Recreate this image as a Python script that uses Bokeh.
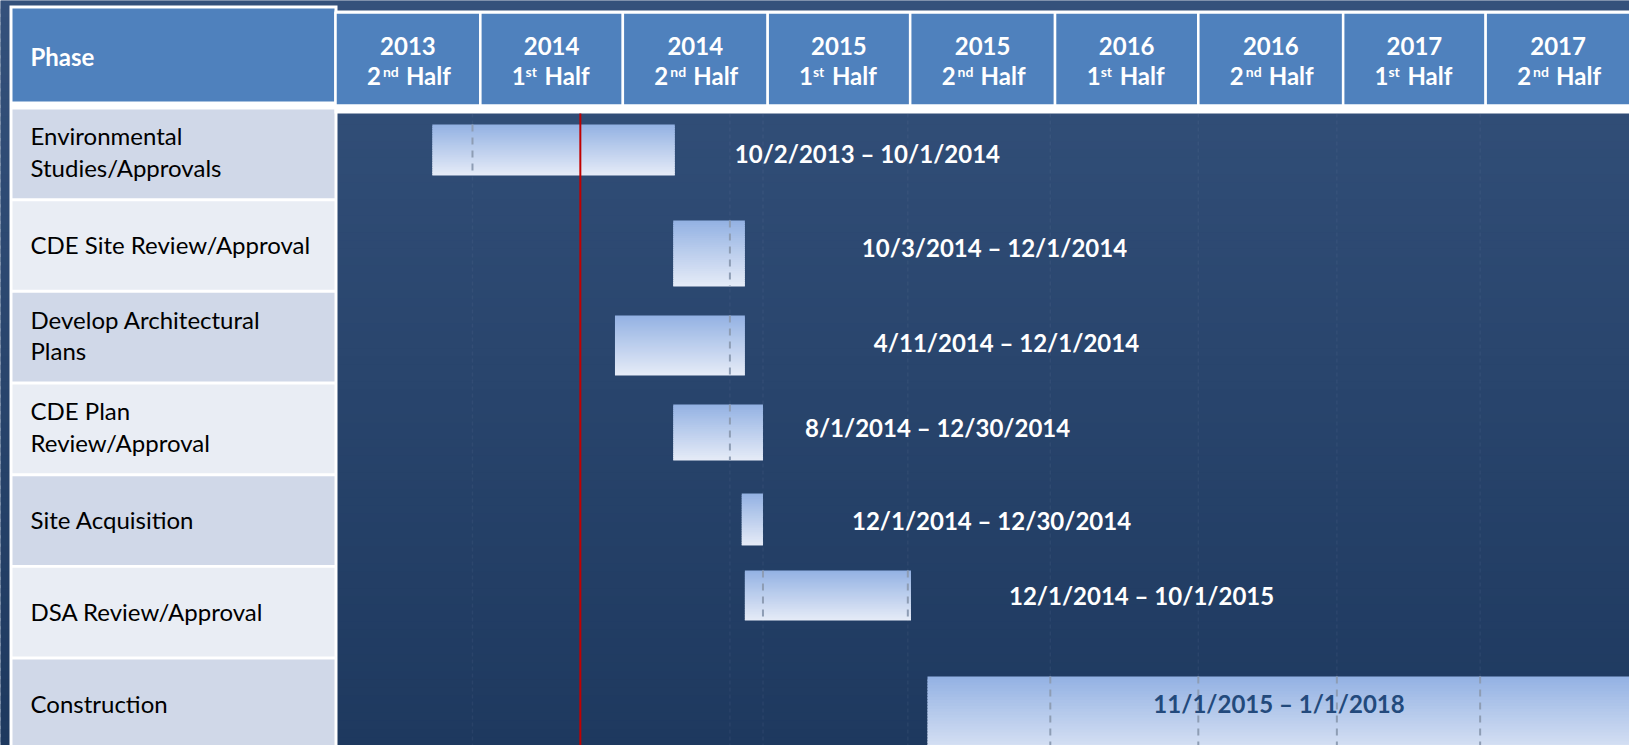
import pandas as pd
from bokeh.plotting import figure
from bokeh.models import Range1d, ColumnDataSource
from bokeh.embed import file_html
from bokeh.resources import INLINE
from bokeh.core.properties import value

# ---------------- data ----------------
header_title = "Phase"
phases = [
    "Environmental\nStudies/Approvals",
    "CDE Site Review/Approval",
    "Develop Architectural\nPlans",
    "CDE Plan\nReview/Approval",
    "Site Acquisition",
    "DSA Review/Approval",
    "Construction",
]
bar_start = ["2013-11-01", "2014-09-03", "2014-06-21", "2014-09-03",
             "2014-11-29", "2014-12-03", "2015-07-23"]
bar_end = ["2014-09-05", "2014-12-03", "2014-12-03", "2014-12-26",
           "2014-12-26", "2015-07-02", "2018-01-01"]
date_labels = [
    "10/2/2013 – 10/1/2014",
    "10/3/2014 – 12/1/2014",
    "4/11/2014 – 12/1/2014",
    "8/1/2014 – 12/30/2014",
    "12/1/2014 – 12/30/2014",
    "12/1/2014 – 10/1/2015",
    "11/1/2015 – 1/1/2018",
]
period_year = ["2013", "2014", "2014", "2015", "2015", "2016", "2016", "2017", "2017"]
period_num = ["2", "1", "2", "1", "2", "1", "2", "1", "2"]
period_suffix = ["nd", "st", "nd", "st", "nd", "st", "nd", "st", "nd"]
period_word = ["Half"] * 9
period_start = ["2013-07-01", "2014-01-01", "2014-07-01", "2015-01-01", "2015-07-01",
                "2016-01-01", "2016-07-01", "2017-01-01", "2017-07-01"]
period_end = ["2014-01-01", "2014-07-01", "2015-01-01", "2015-07-01", "2016-01-01",
              "2016-07-01", "2017-01-01", "2017-07-01", "2018-01-01"]
gridline_dates = ["2013-12-22", "2014-11-14", "2014-12-26", "2015-06-28",
                  "2015-12-26", "2016-07-01", "2016-12-24", "2017-06-24"]
today_marker = "2014-05-08"

# ---------------- layout / style ----------------
W, H = 1629, 745
ROW_TOP = 109                 # px of first row top
ROW_PITCH = 91.67             # px per table row
CELL_FRAC = 88.7 / ROW_PITCH  # cell height without white separator
CHART_TOP = 113               # px where the dark chart area starts

bar_top_frac = [0.164, 0.211, 0.247, 0.218, 0.189, 0.029, 0.185]
bar_bot_frac = [0.720, 0.931, 0.902, 0.829, 0.756, 0.575, 1.15]
label_y_frac = [0.485, 0.505, 0.540, 0.470, 0.485, 0.305, 0.480]
label_gap_px = [60, 117, 129, 42, 89, 98, 0]
label_inside = [False, False, False, False, False, False, True]

HEADER_BLUE = "#4F81BD"
ROW_COLORS = ["#D0D8E8", "#E9EDF4"]
BG_TOP, BG_BOT = "#34517B", "#1E395F"
BAR_TOP, BAR_BOT = "#93B1E3", "#E6ECF7"
FONT = value("Lato")


def hex2rgb(h):
    h = h.lstrip("#")
    return tuple(int(h[i:i + 2], 16) for i in (0, 2, 4))


def lerp(c1, c2, t):
    a, b = hex2rgb(c1), hex2rgb(c2)
    return "#%02x%02x%02x" % tuple(int(round(a[i] + (b[i] - a[i]) * t)) for i in range(3))


# ---------------- scales ----------------
t0 = pd.Timestamp(period_start[0])
t1 = pd.Timestamp(period_end[-1])
X0, X1 = 335, 1630
per_px = (t1 - t0) / (X1 - X0)
x_start = (t0 - X0 * per_px).to_pydatetime()
x_end = (t0 + (W - X0) * per_px).to_pydatetime()

y_top = -ROW_TOP / ROW_PITCH
y_bottom = (H - ROW_TOP) / ROW_PITCH

p = figure(width=W, height=H, x_range=Range1d(x_start, x_end),
           y_range=Range1d(y_bottom, y_top),
           x_axis_location=None, y_axis_location=None,
           output_backend="svg", toolbar_location=None, min_border=0)
p.extra_x_ranges = {"px": Range1d(0, W)}
p.extra_y_ranges = {"px": Range1d(H, 0)}
p.grid.visible = False
p.outline_line_color = None
p.background_fill_color = BG_TOP
p.border_fill_color = BG_TOP

# background gradient
NB = 90
bg_top = [H * k / NB for k in range(NB)]
bg_bot = [H * (k + 1.6) / NB for k in range(NB)]
bg_col = [lerp(BG_TOP, BG_BOT, (k + 0.5) / NB) for k in range(NB)]
p.quad(left=0, right=W, top=bg_top, bottom=bg_bot, fill_color=bg_col, line_color=None,
       x_range_name="px", y_range_name="px")

# ---------------- phase column ----------------
p.quad(left=9, right=337, top=5, bottom=H, fill_color="white", line_color=None,
       x_range_name="px", y_range_name="px")
p.quad(left=12, right=334, top=8, bottom=101, fill_color=HEADER_BLUE,
       line_color=None, x_range_name="px", y_range_name="px")
p.text(x=[30], y=[56], text=[header_title], text_color="white",
       text_font=FONT, text_font_style="bold", text_font_size="24px",
       text_baseline="middle", text_align="left", x_range_name="px", y_range_name="px")

n = len(phases)
rows = list(range(n))
p.quad(left=12, right=334, top=rows, bottom=[r + CELL_FRAC for r in rows],
       fill_color=[ROW_COLORS[r % 2] for r in rows], line_color=None, x_range_name="px")
p.text(x=[30] * n,
       y=[r + CELL_FRAC / 2 - (0.025 if "\n" in phases[r] else 0.008) for r in rows],
       text=phases, text_color="black",
       text_font=FONT, text_font_size="24px", text_line_height=1.08,
       text_baseline="middle", text_align="left", x_range_name="px")

# ---------------- period header ----------------
ps = pd.to_datetime(period_start)
pe = pd.to_datetime(period_end)
pc = ps + (pe - ps) / 2
p.quad(left=334, right=W, top=10, bottom=CHART_TOP, fill_color="white",
       line_color=None, x_range_name="px", y_range_name="px")
p.quad(left=ps, right=pe, top=12, bottom=105, fill_color=HEADER_BLUE,
       line_color="white", line_width=2.5, y_range_name="px")

hdr = ColumnDataSource(dict(
    x=pc, year=period_year, num=period_num, suf=period_suffix, word=period_word,
    num_off=[-27 if s == "nd" else -26 for s in period_suffix],
    suf_off=[-25 if s == "nd" else -26 for s in period_suffix],
    word_off=[-2 if s == "nd" else -7 for s in period_suffix],
))
common = dict(text_color="white", text_font=FONT, text_font_style="bold",
              text_baseline="middle", y_range_name="px", source=hdr)
p.text(x="x", y=45, text="year", text_align="center", text_font_size="24px", **common)
p.text(x="x", y=75, text="num", text_align="right", x_offset="num_off",
       text_font_size="24px", **common)
p.text(x="x", y=71, text="suf", text_align="left", x_offset="suf_off",
       text_font_size="14px", **common)
p.text(x="x", y=75, text="word", text_align="left", x_offset="word_off",
       text_font_size="24px", **common)

# ---------------- chart ----------------
gd = pd.to_datetime(gridline_dates)
p.segment(x0=gd, x1=gd, y0=CHART_TOP, y1=H, line_color="#8FA0B8", line_alpha=0.09,
          line_width=1.5, line_dash="4 3", y_range_name="px")

bs = pd.to_datetime(bar_start)
be = pd.to_datetime(bar_end)
NS = 30
L, R, T, B, C = [], [], [], [], []
for i in rows:
    top = i + bar_top_frac[i]
    bot = i + bar_bot_frac[i]
    step = (bot - top) / NS
    for k in range(NS):
        L.append(bs[i])
        R.append(be[i])
        T.append(top + k * step)
        B.append(min(bot, top + (k + 1.6) * step))
        C.append(lerp(BAR_TOP, BAR_BOT, (k + 0.5) / NS))
p.quad(left=L, right=R, top=T, bottom=B, fill_color=C, line_color=None)

# dashed gridlines where they cross bars
gx, gy0, gy1 = [], [], []
for i in rows:
    for g in gd:
        if bs[i] < g < be[i]:
            gx.append(g)
            gy0.append(i + bar_top_frac[i])
            gy1.append(i + bar_bot_frac[i])
p.segment(x0=gx, x1=gx, y0=gy0, y1=gy1, line_color="#8E9DB4", line_width=2,
          line_dash="7 6")

# today marker
td = pd.to_datetime([today_marker])
p.segment(x0=td, x1=td, y0=CHART_TOP, y1=H, line_color="#C00000", line_width=2,
          y_range_name="px")

# date labels
lab = ColumnDataSource(dict(
    x=[(bs[i] + (be[i] - bs[i]) / 2) if label_inside[i] else be[i] for i in rows],
    y=[i + label_y_frac[i] for i in rows],
    text=date_labels,
    off=label_gap_px,
    align=["center" if f else "left" for f in label_inside],
    color=["#234A7C" if f else "white" for f in label_inside],
))
p.text(x="x", y="y", text="text", x_offset="off", text_align="align", text_color="color",
       text_font=FONT, text_font_style="bold", text_font_size="24px",
       text_baseline="middle", source=lab)

open("out.html", "w").write(file_html(p, INLINE))
